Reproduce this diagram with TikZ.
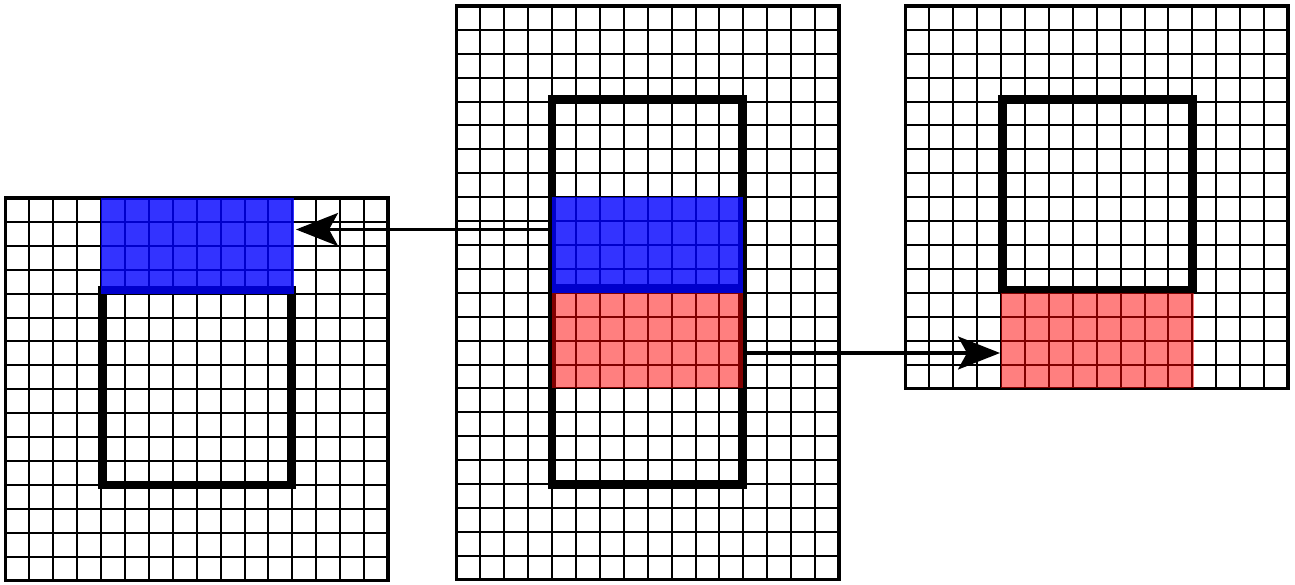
\documentclass[tikz,border=0pt]{standalone}
\usetikzlibrary{arrows.meta}
\tikzset{
  gridline/.style={line width=2pt, black},
  gridborder/.style={line width=3.2pt, black},
  window/.style={line width=8.5pt, black},
  blueov/.style={fill=blue, fill opacity=0.8, draw=none},
  redov/.style={fill=red, fill opacity=0.5, draw=none},
  flow/.style={line width=3.2pt, -{Stealth[length=42pt,width=33pt,inset=9pt]}},
}
\begin{document}
\begin{tikzpicture}[x=1pt,y=-1pt]
\useasboundingbox (0,0) rectangle (1295,585);
% ---------- left grid 16x16 ----------
\foreach \i in {1,...,15} {
  \draw[gridline] ({5.5+\i*23.9},198) -- ++(0,382.4);
  \draw[gridline] (5.5,{198+\i*23.9}) -- ++(382.4,0);
}
\draw[gridborder] (5.5,198) rectangle ++(382.4,382.4);
% ---------- middle grid 16x24 ----------
\foreach \i in {1,...,15} {
  \draw[gridline] ({456.5+\i*23.9},6) -- ++(0,573.6);
}
\foreach \i in {1,...,23} {
  \draw[gridline] (456.5,{6+\i*23.9}) -- ++(382.4,0);
}
\draw[gridborder] (456.5,6) rectangle ++(382.4,573.6);
% ---------- right grid 16x16 ----------
\foreach \i in {1,...,15} {
  \draw[gridline] ({905.5+\i*23.9},6) -- ++(0,382.4);
  \draw[gridline] (905.5,{6+\i*23.9}) -- ++(382.4,0);
}
\draw[gridborder] (905.5,6) rectangle ++(382.4,382.4);
% ---------- thick windows ----------
\draw[window] (102.5,290) rectangle (291.5,484.8);
\draw[window] (552.1,99.5) rectangle (742.3,484.5);
\draw[window] (552.1,288) -- (742.3,288);
\draw[window] (1002.5,99.5) rectangle (1192.3,290);
% ---------- arrows ----------
\coordinate (srcA) at (551,229.5);
\coordinate (dstA) at (296,229.5);
\coordinate (srcB) at (743,353);
\coordinate (dstB) at (1000,353);
\draw[flow] (srcA) -- (dstA);
\draw[flow] (srcB) -- (dstB);
% ---------- coloured overlays ----------
\fill[blueov] (101.1,198) rectangle (293.5,293.6);
\fill[blueov] (551.5,197.2) rectangle (743.3,293);
\fill[redov] (551.5,293) rectangle (743.3,388.4);
\fill[redov] (1001.1,293) rectangle (1193.5,388.4);
\end{tikzpicture}
\end{document}
